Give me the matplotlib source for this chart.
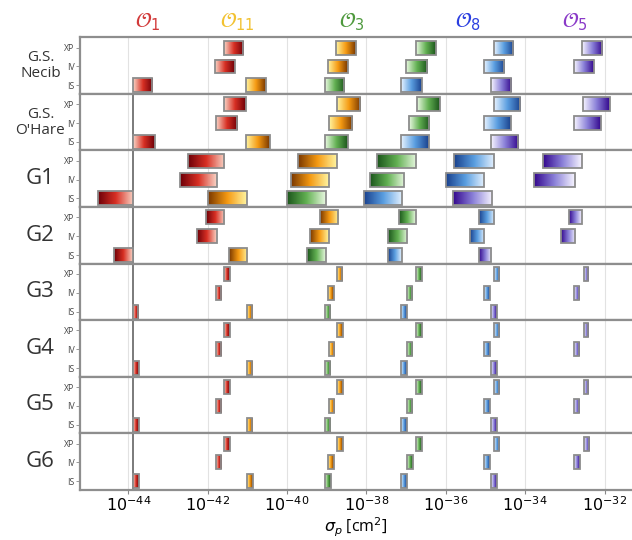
import numpy as np
import matplotlib
matplotlib.use('Agg')
import matplotlib.pyplot as plt
from matplotlib.colors import LinearSegmentedColormap
from matplotlib.patches import Rectangle

plt.rcParams['font.family'] = ['Open Sans', 'DejaVu Sans']
plt.rcParams['mathtext.fontset'] = 'dejavusans'

# log10 of sigma_p [cm^2]; rows are XP, IV, IS; columns are O1, O11, O3, O8, O5
panels = ['G.S.\nNecib', "G.S.\nO'Hare", 'G1', 'G2', 'G3', 'G4', 'G5', 'G6']
rows = ['XP', 'IV', 'IS']
operators = [r'$\mathcal{O}_1$', r'$\mathcal{O}_{11}$', r'$\mathcal{O}_3$',
             r'$\mathcal{O}_8$', r'$\mathcal{O}_5$']
op_colors = ['#d23a3a', '#f2c232', '#4f9a3e', '#2b3fe0', '#8a3ac8']
title_pos = [-43.5, -41.26, -38.36, -35.44, -32.75]

necib_lo = [[-41.60, -38.76, -36.74, -34.79, -32.58],
            [-41.81, -38.96, -37.01, -35.04, -32.77],
            [-43.88, -41.03, -39.05, -37.12, -34.86]]
necib_hi = [[-41.11, -38.27, -36.26, -34.31, -32.06],
            [-41.31, -38.47, -36.48, -34.53, -32.27],
            [-43.40, -40.54, -38.56, -36.61, -34.35]]
ohare_lo = [[-41.58, -38.74, -36.72, -34.79, -32.55],
            [-41.80, -38.95, -36.94, -35.03, -32.77],
            [-43.87, -41.03, -39.04, -37.12, -34.86]]
ohare_hi = [[-41.03, -38.16, -36.15, -34.13, -31.87],
            [-41.25, -38.37, -36.43, -34.35, -32.09],
            [-43.33, -40.44, -38.47, -36.43, -34.17]]
g1_lo = [[-42.49, -39.72, -37.74, -35.80, -33.55],
         [-42.69, -39.89, -37.92, -35.99, -33.77],
         [-44.77, -41.98, -40.00, -38.07, -35.83]]
g1_hi = [[-41.58, -38.74, -36.75, -34.79, -32.58],
         [-41.77, -38.94, -37.06, -35.03, -32.75],
         [-43.88, -41.02, -39.03, -37.10, -34.84]]
g2_lo = [[-42.05, -39.18, -37.17, -35.17, -32.89],
         [-42.26, -39.41, -37.45, -35.39, -33.11],
         [-44.35, -41.47, -39.49, -37.45, -35.17]]
g2_hi = [[-41.58, -38.71, -36.75, -34.79, -32.58],
         [-41.77, -38.94, -36.97, -35.03, -32.75],
         [-43.88, -41.01, -39.03, -37.10, -34.86]]
g3_lo = [[-41.60, -38.74, -36.75, -34.79, -32.53],
         [-41.80, -38.96, -36.98, -35.03, -32.77],
         [-43.88, -41.02, -39.05, -37.12, -34.86]]
g3_hi = [[-41.45, -38.61, -36.61, -34.66, -32.42],
         [-41.67, -38.83, -36.85, -34.90, -32.64],
         [-43.75, -40.89, -38.92, -36.98, -34.71]]
g4_lo = [[-41.58, -38.73, -36.74, -34.79, -32.53],
         [-41.80, -38.95, -36.98, -35.03, -32.77],
         [-43.87, -41.02, -39.05, -37.12, -34.86]]
g4_hi = [[-41.44, -38.60, -36.60, -34.66, -32.42],
         [-41.67, -38.82, -36.85, -34.90, -32.64],
         [-43.74, -40.89, -38.92, -36.98, -34.71]]
g5_lo = [[-41.58, -38.73, -36.74, -34.79, -32.53],
         [-41.80, -38.95, -36.98, -35.03, -32.77],
         [-43.87, -41.02, -39.05, -37.12, -34.86]]
g5_hi = [[-41.44, -38.60, -36.60, -34.66, -32.42],
         [-41.67, -38.82, -36.85, -34.90, -32.64],
         [-43.74, -40.89, -38.92, -36.98, -34.71]]
g6_lo = [[-41.58, -38.74, -36.74, -34.79, -32.53],
         [-41.79, -38.96, -36.97, -35.03, -32.77],
         [-43.87, -41.02, -39.05, -37.12, -34.85]]
g6_hi = [[-41.43, -38.59, -36.59, -34.66, -32.40],
         [-41.66, -38.81, -36.83, -34.90, -32.63],
         [-43.73, -40.87, -38.90, -36.97, -34.71]]

all_lo = [necib_lo, ohare_lo, g1_lo, g2_lo, g3_lo, g4_lo, g5_lo, g6_lo]
all_hi = [necib_hi, ohare_hi, g1_hi, g2_hi, g3_hi, g4_hi, g5_hi, g6_hi]
reversed_grad = [False, False, True, True, False, False, False, False]
floor_line = -43.88

cmaps = [LinearSegmentedColormap.from_list('r', ['#f8d4c6', '#d83024', '#6e0008']),
         LinearSegmentedColormap.from_list('o', ['#fff4a0', '#f59a12', '#7a3800']),
         LinearSegmentedColormap.from_list('g', ['#e8f8e0', '#62b052', '#1c561c']),
         LinearSegmentedColormap.from_list('b', ['#e6f2ff', '#5a9ee0', '#1a428e']),
         LinearSegmentedColormap.from_list('p', ['#f6f4ff', '#8a80d8', '#34088e'])]

fig, axes = plt.subplots(8, 1, figsize=(6.32, 5.4), dpi=100, sharex=True,
                         gridspec_kw=dict(hspace=0))
fig.subplots_adjust(left=0.127, right=1.0, top=0.931, bottom=0.093)

grad = np.linspace(0, 1, 64).reshape(1, -1)
h = 0.74
xlim = (-45.21, -31.31)

for p, ax in enumerate(axes):
    for r in range(3):
        y = 2 - r
        for k in range(5):
            lo = all_lo[p][r][k]
            hi = all_hi[p][r][k]
            g = grad[:, ::-1] if reversed_grad[p] else grad
            ax.imshow(g, cmap=cmaps[k], extent=[lo, hi, y - h / 2, y + h / 2],
                      aspect='auto', interpolation='bilinear', zorder=3)
            ax.add_patch(Rectangle((lo, y - h / 2), hi - lo, h, fill=False,
                                   ec='#8c8c8c', lw=1.3, zorder=4))
    for d in range(-44, -31, 2):
        ax.axvline(d, color='#e2e2e2', lw=0.8, zorder=1)
    if p > 0:
        ax.axvline(floor_line, color='#7a7a7a', lw=1.4, zorder=2)
    ax.set_xlim(*xlim)
    ax.set_ylim(-0.45, 2.55)
    ax.set_yticks([2, 1, 0])
    ax.set_yticklabels(rows, fontsize=6.3, color='#444444')
    ax.tick_params(axis='y', length=3, width=0.6, color='#888888', pad=1)
    ax.tick_params(axis='x', length=0)
    for side in ['top', 'bottom', 'left']:
        ax.spines[side].set_color('#8e8e8e')
        ax.spines[side].set_linewidth(1.6)
    ax.spines['right'].set_visible(False)
    bb = ax.get_position()
    fig.text(0.064, (bb.y0 + bb.y1) / 2, panels[p], ha='center', va='center',
             fontsize=11 if p < 2 else 16, color='#333333', linespacing=1.1)

axes[-1].set_xticks(range(-44, -31, 2))
axes[-1].set_xticklabels([r'$10^{%d}$' % d for d in range(-44, -31, 2)], fontsize=11.5)
axes[-1].tick_params(axis='x', length=3, color='#888888', pad=2)
axes[-1].set_xlabel(r'$\sigma_p$ [cm$^2$]', fontsize=11.5, labelpad=0)

for k in range(5):
    axes[0].text(title_pos[k], 2.75, operators[k], color=op_colors[k],
                 fontsize=15, ha='center', va='bottom')

fig.savefig('out.png', dpi=100)
